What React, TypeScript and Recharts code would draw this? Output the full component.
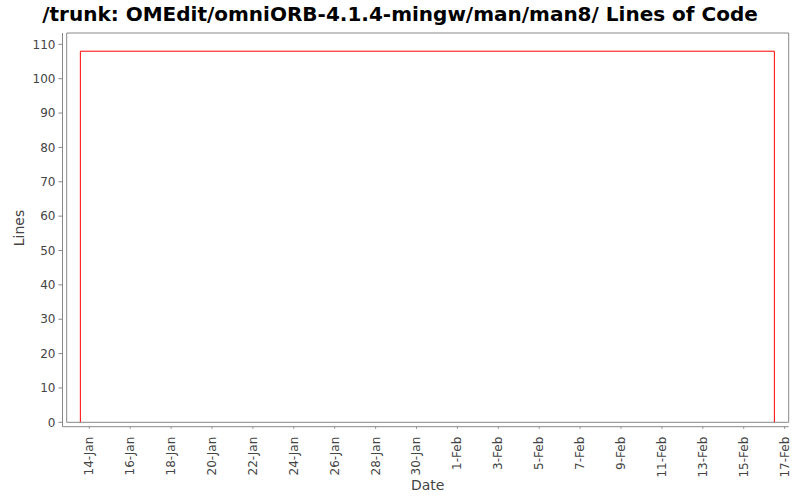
import { LineChart, Line, XAxis, YAxis, ReferenceArea } from "recharts";

// series: step from 0 up to 108 lines, flat, then back to 0
const pointDates = ["2010-01-13T13:30", "2010-01-13T13:30", "2010-02-16T12:00", "2010-02-16T12:00"];
const lineValues = [0, 108, 108, 0];

const xTickLabels = [
  "14-Jan", "16-Jan", "18-Jan", "20-Jan", "22-Jan", "24-Jan", "26-Jan", "28-Jan", "30-Jan",
  "1-Feb", "3-Feb", "5-Feb", "7-Feb", "9-Feb", "11-Feb", "13-Feb", "15-Feb", "17-Feb"
];
const yTicks = [0, 10, 20, 30, 40, 50, 60, 70, 80, 90, 100, 110];

const YEAR = 2010;
const MONTHS = ["Jan", "Feb", "Mar", "Apr", "May", "Jun", "Jul", "Aug", "Sep", "Oct", "Nov", "Dec"];
const DAY = 86400000;

const toTime = (s: string) => Date.parse(s + ":00Z");
const labelToTime = (l: string) => {
  const [d, m] = l.split("-");
  return Date.UTC(YEAR, MONTHS.indexOf(m), Number(d));
};
const timeToLabel = (t: number) => {
  const d = new Date(t);
  return `${d.getUTCDate()}-${MONTHS[d.getUTCMonth()]}`;
};

const data = pointDates.map((s, i) => ({ t: toTime(s), loc: lineValues[i] }));
const xTicks = xTickLabels.map(labelToTime);
const start = labelToTime("14-Jan");
const xDomain = [start - 1.105 * DAY, start + 34.2 * DAY];
const yMax = 113.3;

const FONT = "'DejaVu Sans', sans-serif";
const GRAY = "#888888";
const TXT = "#444444";

function DateTick(props: any) {
  const { x, y, payload } = props;
  return (
    <text
      x={x}
      y={y}
      transform={`rotate(-90 ${x} ${y})`}
      textAnchor="end"
      dominantBaseline="central"
      fontSize={12}
      fontFamily={FONT}
      fill={TXT}
    >
      {timeToLabel(payload.value)}
    </text>
  );
}

export default function App() {
  return (
    <div style={{ position: "relative", width: 800, height: 500, background: "#fff", fontFamily: FONT }}>
      <style>{"body{margin:0}"}</style>
      <div
        style={{
          position: "absolute",
          top: 2,
          left: 0,
          width: 800,
          textAlign: "center",
          fontSize: 20,
          fontWeight: "bold",
          color: "#000",
          whiteSpace: "nowrap"
        }}
      >
        /trunk: OMEdit/omniORB-4.1.4-mingw/man/man8/ Lines of Code
      </div>
      <LineChart
        width={800}
        height={500}
        data={data}
        margin={{ top: 33, right: 11.3, bottom: 13.3, left: 12.5 }}
      >
        <XAxis
          dataKey="t"
          type="number"
          domain={xDomain}
          ticks={xTicks}
          interval={0}
          allowDataOverflow
          padding={{ left: 4.2, right: 0 }}
          height={60}
          tickSize={2}
          tickMargin={8}
          axisLine={{ stroke: GRAY }}
          tickLine={{ stroke: GRAY }}
          tick={<DateTick />}
        />
        <YAxis
          type="number"
          domain={[0, yMax]}
          ticks={yTicks}
          interval={0}
          allowDataOverflow
          padding={{ top: 0, bottom: 4.4 }}
          width={50}
          tickSize={4}
          tickMargin={3}
          axisLine={{ stroke: GRAY }}
          tickLine={{ stroke: GRAY }}
          tick={{ fontSize: 12, fontFamily: FONT, fill: TXT }}
        />
        <ReferenceArea
          x1={xDomain[0]}
          x2={xDomain[1]}
          y1={0}
          y2={yMax}
          fill="#ffffff"
          fillOpacity={0}
          stroke={GRAY}
          strokeWidth={1}
          ifOverflow="visible"
        />
        <Line
          dataKey="loc"
          type="linear"
          stroke="#ff0000"
          strokeWidth={1}
          dot={false}
          isAnimationActive={false}
        />
      </LineChart>
      <div
        style={{
          position: "absolute",
          left: 427.7,
          top: 477,
          transform: "translateX(-50%)",
          fontSize: 14,
          color: TXT,
          whiteSpace: "nowrap"
        }}
      >
        Date
      </div>
      <div
        style={{
          position: "absolute",
          left: 19,
          top: 227.7,
          transform: "translate(-50%, -50%) rotate(-90deg)",
          fontSize: 14,
          color: TXT,
          whiteSpace: "nowrap"
        }}
      >
        Lines
      </div>
    </div>
  );
}
